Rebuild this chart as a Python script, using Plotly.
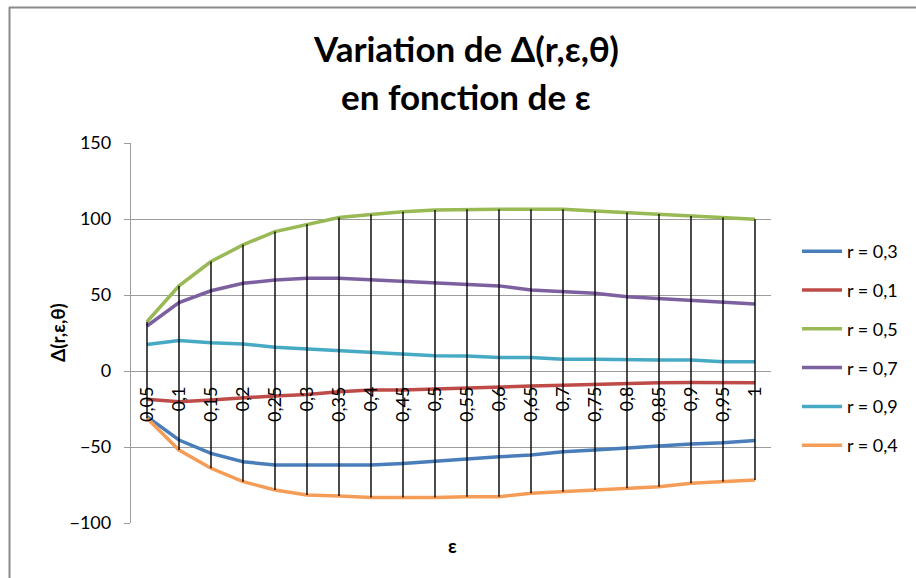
import plotly.graph_objects as go

# ε values (category labels, French decimal comma)
eps_labels = ["0,05", "0,1", "0,15", "0,2", "0,25", "0,3", "0,35", "0,4", "0,45", "0,5",
              "0,55", "0,6", "0,65", "0,7", "0,75", "0,8", "0,85", "0,9", "0,95", "1"]

# Δ(r,ε,θ) for each r
r_03 = [-30, -45.4, -54.2, -59.7, -61.9, -61.9, -61.9, -61.9, -60.8, -59.2,
        -58.1, -56.4, -55.3, -53.1, -52.0, -50.9, -49.4, -48.0, -47.2, -45.8]
r_01 = [-18.6, -20.2, -19.0, -17.5, -16.4, -15.4, -13.6, -12.5, -12.5, -11.8,
        -11.0, -10.3, -9.9, -9.4, -8.8, -8.1, -7.7, -7.5, -7.5, -7.7]
r_05 = [32.4, 56.0, 72.0, 83.0, 91.7, 96.5, 101.0, 103.0, 104.8, 106.0,
        106.4, 106.4, 106.4, 106.4, 105.3, 104.2, 103.3, 102.0, 101.0, 99.8]
r_07 = [29.6, 45.0, 52.8, 57.7, 59.9, 61.0, 61.0, 59.9, 58.8, 57.7,
        57.0, 56.0, 53.3, 52.2, 51.1, 48.9, 47.8, 46.7, 45.6, 44.1]
r_09 = [17.5, 20.0, 18.6, 17.8, 15.6, 14.5, 13.4, 12.3, 11.2, 10.1,
        9.9, 8.8, 8.8, 7.7, 7.7, 7.2, 7.2, 7.2, 6.1, 6.1]
r_04 = [-31.1, -52.0, -64.0, -72.8, -78.3, -81.6, -82.2, -83.3, -83.3, -83.3,
        -82.7, -82.7, -80.5, -79.4, -78.3, -77.2, -76.1, -73.9, -72.8, -71.7]

series_names = ["r = 0,3", "r = 0,1", "r = 0,5", "r = 0,7", "r = 0,9", "r = 0,4"]
series_values = [r_03, r_01, r_05, r_07, r_09, r_04]
series_colors = ["#4A7EBB", "#BE4B48", "#98B954", "#7D60A0", "#46AAC5", "#F59D56"]

y_ticks = [-100, -50, 0, 50, 100, 150]

FONT = "Lato"
GRID = "#9c9c9c"
TICK_SIZE = 18

fig = go.Figure()

for i, (name, vals, col) in enumerate(zip(series_names, series_values, series_colors)):
    fig.add_trace(go.Scatter(
        x=eps_labels, y=vals, name=name, mode="lines",
        line=dict(color=col, width=3.5),
        legendgroup=f"g{i}",
    ))

# high-low lines: from the highest to the lowest series value at each ε
hl_x, hl_y = [], []
for j, lab in enumerate(eps_labels):
    col_vals = [s[j] for s in series_values]
    hl_x += [lab, lab, None]
    hl_y += [max(col_vals), min(col_vals), None]
fig.add_trace(go.Scatter(
    x=hl_x, y=hl_y, mode="lines", showlegend=False, hoverinfo="skip",
    line=dict(color="black", width=1.4),
))

# plot area: x 131..771 px, y 143..523 px
L, R, T, B = 131, 771, 143, 523
W, H = 916, 578


def px_x(p):
    return (p - L) / (R - L)


def px_y(p):
    return (B - p) / (B - T)


fig.update_layout(
    width=W, height=H,
    margin=dict(l=L, r=W - R, t=T, b=H - B),
    paper_bgcolor="white", plot_bgcolor="white",
    font=dict(family=FONT, size=TICK_SIZE, color="black"),
    showlegend=True,
    legend=dict(
        x=px_x(797), y=px_y(233), xanchor="left", yanchor="top",
        font=dict(family=FONT, size=TICK_SIZE, color="black"),
        itemwidth=40,
        tracegroupgap=12.4, bgcolor="rgba(0,0,0,0)",
    ),
    xaxis=dict(
        type="category", range=[-0.5, 19.5],
        anchor="free", position=0.4,
        showgrid=False, zeroline=False, showline=False,
        tickangle=-90, ticks="", ticklabelstandoff=11,
        tickfont=dict(family=FONT, size=TICK_SIZE, color="black"),
    ),
    yaxis=dict(
        range=[-100, 150], tickvals=y_ticks, domain=[0, 1],
        showgrid=True, gridcolor=GRID, gridwidth=1.3,
        zeroline=False, showline=True, linecolor=GRID, linewidth=1.3,
        ticks="outside", ticklen=6, tickcolor=GRID, tickwidth=1.3,
        ticklabelstandoff=9,
        tickfont=dict(family=FONT, size=TICK_SIZE, color="black"),
    ),
    annotations=[
        dict(text="<b>Variation de Δ(r,ε,θ)</b>", xref="paper", yref="paper",
             x=px_x(466), y=px_y(48), xanchor="center", yanchor="middle",
             showarrow=False, font=dict(family=FONT, size=35, color="black")),
        dict(text="<b>en fonction de ε</b>", xref="paper", yref="paper",
             x=px_x(466), y=px_y(96), xanchor="center", yanchor="middle",
             showarrow=False, font=dict(family=FONT, size=35, color="black")),
        # axis titles
        dict(text="<b>Δ(r,ε,θ)</b>", xref="paper", yref="paper",
             x=px_x(57), y=px_y(333), xanchor="center", yanchor="middle",
             textangle=-90, showarrow=False,
             font=dict(family=FONT, size=19, color="black")),
        dict(text="<b>ε</b>", xref="paper", yref="paper",
             x=px_x(452), y=px_y(545), xanchor="center", yanchor="middle",
             showarrow=False, font=dict(family=FONT, size=19, color="black")),
    ],
    shapes=[
        dict(type="line", xref="paper", yref="paper",
             x0=px_x(9), x1=px_x(916), y0=px_y(7.5), y1=px_y(7.5),
             line=dict(color="#8a8a8a", width=2)),
        dict(type="line", xref="paper", yref="paper",
             x0=px_x(9.5), x1=px_x(9.5), y0=px_y(7), y1=px_y(578),
             line=dict(color="#8a8a8a", width=2)),
    ],
)

fig.write_html("out.html")
